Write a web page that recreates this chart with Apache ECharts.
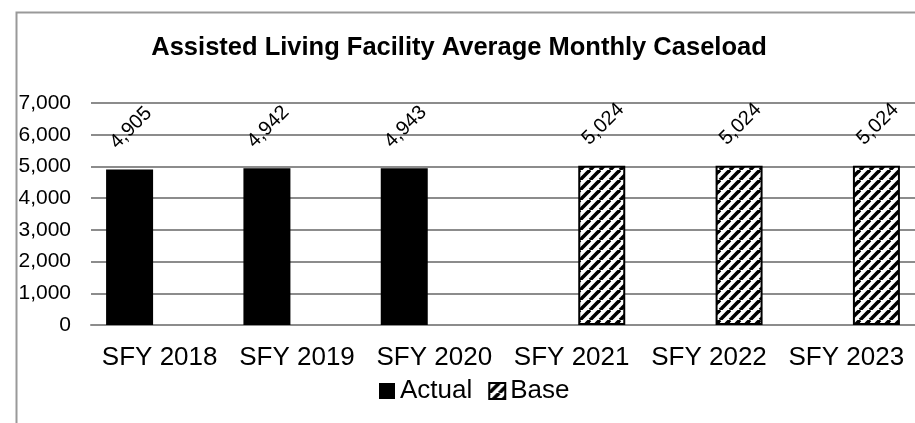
<!DOCTYPE html>
<html>
<head>
<meta charset="utf-8">
<script src="https://cdn.jsdelivr.net/npm/echarts@6/dist/echarts.min.js"></script>
<style>
  html, body { margin: 0; padding: 0; background: #fff; }
  #chart { width: 915px; height: 423px; }
</style>
</head>
<body>
<div id="chart"></div>
<script>
const categories = ["SFY 2018", "SFY 2019", "SFY 2020", "SFY 2021", "SFY 2022", "SFY 2023"];
const actualValues = [4905, 4942, 4943, null, null, null];
const baseValues = [null, null, null, 5024, 5024, 5024];
const yTicks = [0, 1000, 2000, 3000, 4000, 5000, 6000, 7000];

const fmt = (v) => Number(v).toLocaleString("en-US");
const FONT = "Liberation Sans, Arial, sans-serif";

// diagonal hatch for the "Base" bars
function makeHatch() {
  const s = 10;
  const c = document.createElement("canvas");
  c.width = s;
  c.height = s;
  const ctx = c.getContext("2d");
  ctx.fillStyle = "#fff";
  ctx.fillRect(0, 0, s, s);
  ctx.strokeStyle = "#000";
  ctx.lineWidth = 3.6;
  [-s, 0, s].forEach((k) => {
    ctx.beginPath();
    ctx.moveTo(k, s);
    ctx.lineTo(k + s, 0);
    ctx.stroke();
  });
  return c;
}

const chart = echarts.init(document.getElementById("chart"));

const labelStyle = {
  show: true,
  position: "top",
  distance: 40,
  offset: [2, 0],
  rotate: 45,
  align: "center",
  verticalAlign: "middle",
  color: "#000",
  fontFamily: FONT,
  fontSize: 20,
  formatter: (p) => fmt(p.value),
};

const option = {
  animation: false,
  backgroundColor: "#fff",
  textStyle: { fontFamily: FONT },
  graphic: [
    {
      type: "rect",
      left: 14,
      top: 10,
      shape: { width: 1000, height: 1000 },
      style: { fill: "none", stroke: "#999", lineWidth: 2 },
      silent: true,
    },
  ],
  title: {
    text: "Assisted Living Facility Average Monthly Caseload",
    left: 459,
    textAlign: "center",
    top: 35,
    padding: 0,
    textStyle: {
      color: "#000",
      fontWeight: "bold",
      fontSize: 25.5,
      fontFamily: FONT,
    },
  },
  legend: {
    data: ["Actual", "Base"],
    left: 379,
    top: 378,
    padding: 0,
    itemWidth: 16,
    itemHeight: 16,
    itemGap: 16,
    icon: "rect",
    selectedMode: false,
    textStyle: {
      color: "#000",
      fontSize: 26,
      fontFamily: FONT,
    },
  },
  grid: {
    left: 91,
    top: 103,
    width: 836,
    height: 222,
    containLabel: false,
  },
  xAxis: {
    type: "category",
    data: categories,
    axisLine: { show: true, lineStyle: { color: "#8c8c8c", width: 2 } },
    axisTick: { show: false },
    axisLabel: {
      color: "#000",
      fontSize: 26,
      margin: 20,
      interval: 0,
    },
  },
  yAxis: {
    type: "value",
    min: 0,
    max: yTicks[yTicks.length - 1],
    interval: yTicks[1] - yTicks[0],
    axisLine: { show: false },
    axisTick: { show: false },
    axisLabel: {
      color: "#000",
      fontSize: 21,
      margin: 20,
      formatter: (v) => fmt(v),
    },
    splitLine: { show: true, lineStyle: { color: "#8c8c8c", width: 2 } },
  },
  series: [
    {
      name: "Actual",
      type: "bar",
      data: actualValues,
      barWidth: 47,
      barGap: "28%",
      barCategoryGap: "23%",
      itemStyle: { color: "#000" },
      label: labelStyle,
    },
    {
      name: "Base",
      type: "bar",
      data: baseValues,
      barWidth: 47,
      itemStyle: {
        color: { image: makeHatch(), repeat: "repeat" },
        borderColor: "#000",
        borderWidth: 2,
      },
      label: labelStyle,
    },
  ],
};

chart.setOption(option);
</script>
</body>
</html>
